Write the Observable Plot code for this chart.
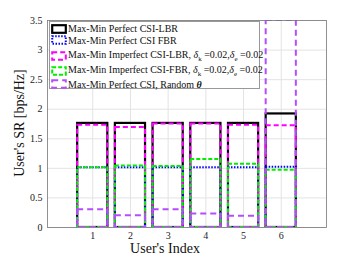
<!DOCTYPE html>
<html>
<head>
<meta charset="utf-8">
<script src="https://cdn.jsdelivr.net/npm/d3@7"></script>
<script src="https://cdn.jsdelivr.net/npm/@observablehq/plot@0.6"></script>
<style>
  html, body { margin: 0; padding: 0; background: #fff; }
  #wrap { position: relative; width: 359px; height: 255px; font-family: "Liberation Serif", "Times New Roman", serif; }
  #legend { position: absolute; left: 49px; top: 21px; width: 211px; height: 68px; background: #fff; border: 1px solid #999; box-sizing: border-box; font-size: 10px; color: #111; }
  .row { position: absolute; left: 1px; display: flex; align-items: center; white-space: nowrap; }
  .row svg { margin-right: 1px; }
  .ylab { position: absolute; left: 19px; top: 123px; transform: translate(-50%, -50%) rotate(-90deg); font-size: 14px; line-height: 13px; white-space: nowrap; color: #111; }
  .xlab { position: absolute; left: 165px; top: 248.5px; transform: translate(-50%, -50%); font-size: 14px; line-height: 12px; white-space: nowrap; color: #111; }
  sub { font-size: 7px; vertical-align: -3px; }
</style>
</head>
<body>
<div id="wrap"></div>
<script>
const users = [1, 2, 3, 4, 5, 6];
const perfectLBR   = [1.76, 1.76, 1.76, 1.76, 1.76, 1.92];
const perfectFBR   = [1.01, 1.01, 1.01, 1.01, 1.01, 1.02];
const imperfectLBR = [1.73, 1.69, 1.75, 1.75, 1.73, 1.72];
const imperfectFBR = [1.01, 1.04, 1.03, 1.15, 1.07, 0.97];
const randomTheta  = [0.30, 0.20, 0.30, 0.23, 0.19, 3.5];
const yTicks = [0, 0.5, 1, 1.5, 2, 2.5, 3, 3.5];
const seriesNames = [
  "Max-Min Perfect CSI-LBR",
  "Max-Min Perfect CSI FBR",
  "Max-Min Imperfect CSI-LBR",
  "Max-Min Imperfect CSI-FBR",
  "Max-Min Perfect CSI, Random θ"
];

const styles = [
  {stroke: "#000000", strokeWidth: 2.2, strokeDasharray: null},
  {stroke: "#0000ff", strokeWidth: 2, strokeDasharray: "1.5 1.5"},
  {stroke: "#ff00ff", strokeWidth: 2, strokeDasharray: "5 3"},
  {stroke: "#00ee00", strokeWidth: 2, strokeDasharray: "4 2"},
  {stroke: "#b44cff", strokeWidth: 2, strokeDasharray: "6 4"}
];
const allSeries = [perfectLBR, perfectFBR, imperfectLBR, imperfectFBR, randomTheta];

const halfWidth = 0.4;
const barMarks = allSeries.map((vals, i) => {
  const data = users.map((u, j) => ({user: u, value: vals[j], series: seriesNames[i]}));
  return Plot.rectY(data, {
    x1: d => d.user - halfWidth,
    x2: d => d.user + halfWidth,
    y: "value",
    fill: "none",
    stroke: styles[i].stroke,
    strokeWidth: styles[i].strokeWidth,
    strokeDasharray: styles[i].strokeDasharray,
    clip: true
  });
});

const chart = Plot.plot({
  width: 359,
  height: 255,
  marginLeft: 47,
  marginRight: 33,
  marginTop: 20,
  marginBottom: 28,
  style: {fontFamily: "Liberation Serif, Times New Roman, serif", fontSize: "10px", color: "#222", background: "#fff"},
  x: {domain: [-0.2, 7.2], label: null},
  y: {domain: [0, 3.5], label: null},
  marks: [
    Plot.gridY(yTicks, {stroke: "#e3e3e3", strokeOpacity: 1}),
    Plot.gridX(users, {stroke: "#e3e3e3", strokeOpacity: 1}),
    Plot.axisY(yTicks, {tickSize: 0, tickPadding: 5, tickFormat: d => String(d), label: null}),
    Plot.axisX(users, {tickSize: 0, tickPadding: 4, tickFormat: d => String(d), label: null}),
    ...barMarks,
    Plot.frame({stroke: "#777", strokeWidth: 0.8})
  ]
});

const wrap = document.getElementById("wrap");
wrap.appendChild(chart);

function icon(s) {
  const dash = s.strokeDasharray ? `stroke-dasharray="${s.strokeDasharray}"` : "";
  return `<svg width="16" height="10"><rect x="1.2" y="1.2" width="13.6" height="7.6" fill="none" stroke="${s.stroke}" stroke-width="${s.strokeWidth}" ${dash}/></svg>`;
}
const rowTops = [1, 12.5, 27, 42, 56.5];
const labelsHtml = [
  seriesNames[0],
  seriesNames[1],
  `${seriesNames[2]}, <i>δ</i><sub>k</sub> =0.02,<i>δ</i><sub>e</sub> =0.02`,
  `${seriesNames[3]}, <i>δ</i><sub>k</sub> =0.02,<i>δ</i><sub>e</sub> =0.02`,
  `Max-Min Perfect CSI, Random <b><i>θ</i></b>`
];
const legend = document.createElement("div");
legend.id = "legend";
legend.innerHTML = labelsHtml.map((t, i) =>
  `<div class="row" style="top:${rowTops[i]}px">${icon(styles[i])}<span>${t}</span></div>`).join("");
wrap.appendChild(legend);

const yl = document.createElement("div");
yl.className = "ylab";
yl.textContent = "User's SR [bps/Hz]";
wrap.appendChild(yl);
const xl = document.createElement("div");
xl.className = "xlab";
xl.textContent = "User's Index";
wrap.appendChild(xl);
</script>
</body>
</html>
